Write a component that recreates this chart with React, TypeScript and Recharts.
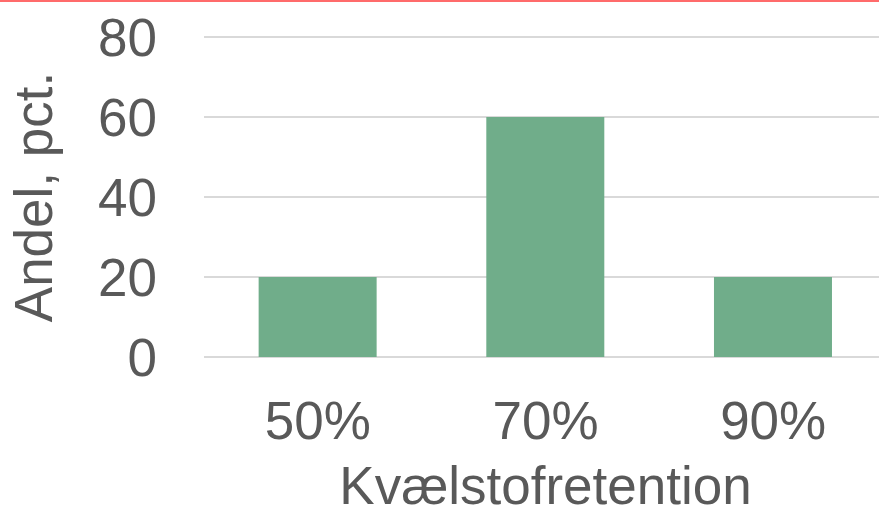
import React from 'react';
import { BarChart, Bar, XAxis, YAxis, CartesianGrid, Label } from 'recharts';

// Share of catchments per nitrogen retention class
const categories = ['50%', '70%', '90%'];
const shares = [20, 60, 20];
const yTicks = [0, 20, 40, 60, 80];

const data = categories.map((name, i) => ({ name, andel: shares[i] }));

const TEXT = '#595959';
const FONT = '"Liberation Sans", Arial, sans-serif';

function YTitle(props: any) {
  const vb = props.viewBox;
  const x = 52;
  const y = vb.y + vb.height / 2;
  return (
    <text
      x={x}
      y={y}
      transform={`rotate(-90, ${x}, ${y})`}
      textAnchor="middle"
      fill={TEXT}
      fontSize={53}
      fontFamily={FONT}
    >
      Andel, pct.
    </text>
  );
}

export default function App() {
  return (
    <div style={{ position: 'absolute', left: 0, top: 0, width: 879, height: 510, background: '#fff', overflow: 'hidden' }}>
      <div style={{ position: 'absolute', left: 0, top: 0, width: 879, height: 2, background: '#ff6b6b', zIndex: 1 }} />
      {/* plot area runs a little past the right edge */}
      <BarChart
        width={887}
        height={510}
        data={data}
        margin={{ top: 37, right: 0, left: 0, bottom: 0 }}
        barCategoryGap="24%"
        style={{ fontFamily: FONT }}
      >
        <CartesianGrid vertical={false} stroke="#d9d9d9" strokeWidth={2} />
        <XAxis
          dataKey="name"
          height={153}
          axisLine={false}
          tickLine={false}
          tickSize={0}
          tickMargin={44}
          tick={{ fill: TEXT, fontSize: 53, fontFamily: FONT }}
        >
          <Label
            value="Kvælstofretention"
            position="insideBottom"
            offset={6}
            fill={TEXT}
            fontSize={53}
            fontFamily={FONT}
          />
        </XAxis>
        <YAxis
          width={204}
          domain={[0, 80]}
          ticks={yTicks}
          axisLine={false}
          tickLine={false}
          tickSize={0}
          tickMargin={47}
          tick={{ fill: TEXT, fontSize: 53, fontFamily: FONT }}
        >
          <Label content={<YTitle />} />
        </YAxis>
        <Bar dataKey="andel" fill="#70ad8a" isAnimationActive={false} />
      </BarChart>
    </div>
  );
}
